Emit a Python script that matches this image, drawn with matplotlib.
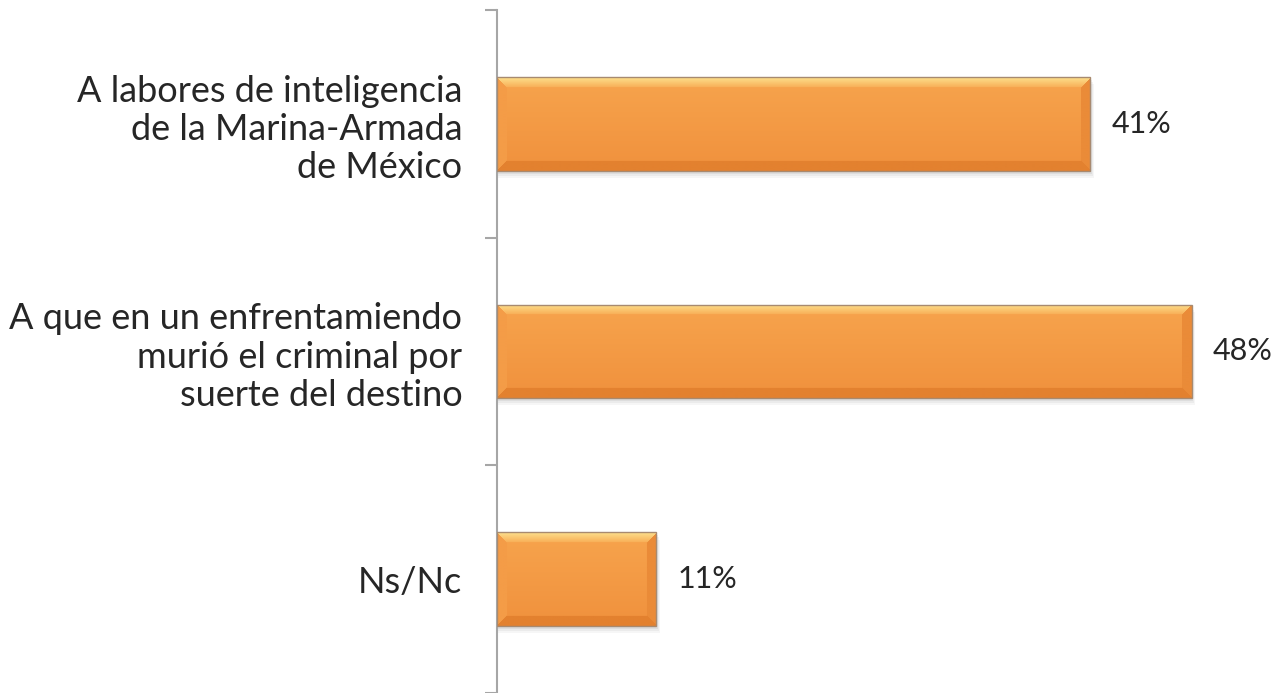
import numpy as np
import matplotlib.pyplot as plt
from matplotlib.patches import Rectangle
from matplotlib.colors import to_rgb

categories = ["A labores de inteligencia\nde la Marina-Armada\nde México",
              "A que en un enfrentamiendo\nmurió el criminal por\nsuerte del destino",
              "Ns/Nc"]
values = [41, 48, 11]
value_labels = ["41%", "48%", "11%"]

plt.rcParams['font.family'] = ['Lato', 'DejaVu Sans']

fig = plt.figure(figsize=(12.85, 6.93), dpi=100)
ax = fig.add_axes([497 / 1285, 0.0, 788 / 1285, 1 - 10 / 693])

n = len(categories)
ypos = np.arange(n)
bar_h = 0.41
xmax = 788 / 14.47
ax.set_xlim(0, xmax)
ax.set_ylim(n - 0.5, -0.5)


def bevel_image(w_px, h_px, b=10):
    top = np.array(to_rgb("#fde08c"))
    top2 = np.array(to_rgb("#f8ad55"))
    face1 = np.array(to_rgb("#f7a44d"))
    face2 = np.array(to_rgb("#f0913d"))
    left = np.array(to_rgb("#f49c47"))
    right = np.array(to_rgb("#ea8b38"))
    bot = np.array(to_rgb("#e3812f"))
    yy, xx = np.mgrid[0:h_px, 0:w_px].astype(float)
    dt = yy
    db = h_px - 1 - yy
    dl = xx
    dr = w_px - 1 - xx
    t = (yy / max(h_px - 1, 1))[..., None]
    img = face1 * (1 - t) + face2 * t
    d = np.stack([dt, db, dl, dr])
    m = d.argmin(axis=0)
    dmin = d.min(axis=0)
    edge = dmin < b
    f = (dt / b)[..., None]
    topc = top * (1 - f) + top2 * f
    img = np.where((edge & (m == 0))[..., None], topc, img)
    img = np.where((edge & (m == 1))[..., None], bot, img)
    img = np.where((edge & (m == 2))[..., None], left, img)
    img = np.where((edge & (m == 3))[..., None], right, img)
    return img


for y, v, lab in zip(ypos, values, value_labels):
    # shadow
    for k, a in zip([7, 5, 3], [0.07, 0.09, 0.12]):
        sh = Rectangle((0, y - bar_h / 2 + k / 227.5), v + k / 14.47 / 2, bar_h,
                       facecolor="#808080", edgecolor="none", alpha=a, zorder=1)
        ax.add_patch(sh)
    rect = Rectangle((0, y - bar_h / 2), v, bar_h, facecolor="#f59d48",
                     edgecolor="none", zorder=2)
    ax.add_patch(rect)
    img = bevel_image(int(v * 14.47), 93)
    im = ax.imshow(img, extent=(0, v, y + bar_h / 2, y - bar_h / 2),
                   aspect="auto", zorder=3, interpolation="bilinear")
    im.set_clip_path(rect)
    edge = Rectangle((0, y - bar_h / 2), v, bar_h, facecolor="none",
                     edgecolor="#a88a70", linewidth=1.0, zorder=4)
    ax.add_patch(edge)
    ax.text(v + 1.45, y, lab, va="center", ha="left", fontsize=22,
            color="#262626")

for s in ["top", "right", "bottom"]:
    ax.spines[s].set_visible(False)
ax.spines["left"].set_color("#a6a6a6")
ax.spines["left"].set_linewidth(1.5)
ax.set_xticks([])
ax.set_yticks(ypos)
ax.set_yticklabels(categories, fontsize=26, color="#262626", linespacing=1.2)
ax.tick_params(axis="y", which="major", length=0, pad=25)
ax.set_yticks(np.arange(-0.5, n, 1.0), minor=True)
ax.tick_params(axis="y", which="minor", length=9, width=1.5, color="#a6a6a6")
ax.set_facecolor("white")

fig.savefig("out.png", dpi=100)
